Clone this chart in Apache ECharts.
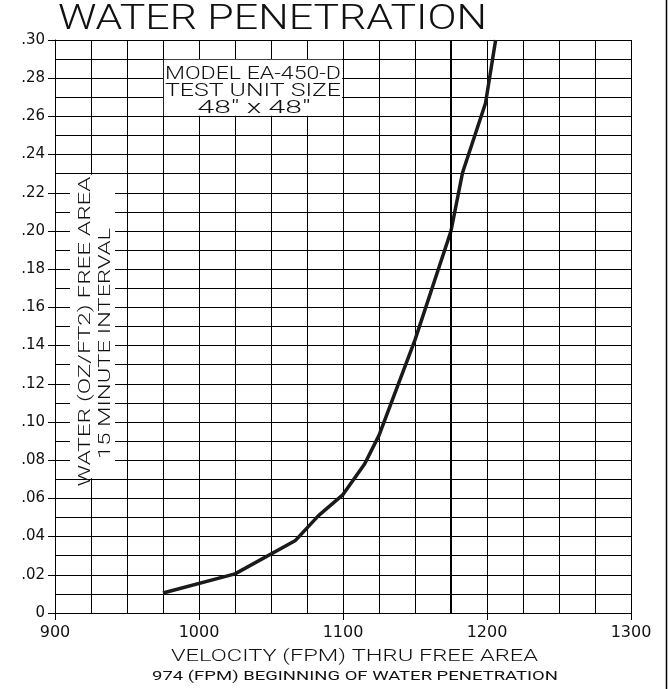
<!DOCTYPE html>
<html>
<head>
<meta charset="utf-8">
<script src="https://cdn.jsdelivr.net/npm/echarts@6/dist/echarts.min.js"></script>
<style>
	html, body { margin: 0; padding: 0; background: #fff; }
	#chart { width: 669px; height: 689px; }
</style>
</head>
<body>
<div id="chart"></div>
<script>
// 曲线数据 (FPM, oz/ft2)
const velocity = [975, 1025, 1067, 1083, 1100, 1115, 1125, 1150, 1175, 1183, 1199, 1206];
const water = [0.0105, 0.0205, 0.038, 0.051, 0.062, 0.078, 0.093, 0.143, 0.2, 0.2305, 0.267, 0.3];

// 坐标轴
const xMin = 900, xMax = 1300, xStep = 100;
const yMin = 0, yMax = 0.3, yStep = 0.02;
const yTickLabels = ['0', '.02', '.04', '.06', '.08', '.10', '.12', '.14', '.16', '.18', '.20', '.22', '.24', '.26', '.28', '.30'];

// 文字
const titleText = 'WATER PENETRATION';
const modelLines = ['MODEL EA-450-D', 'TEST UNIT SIZE', '48" x 48"'];
const yTitleLines = ['WATER (OZ/FT2) FREE AREA', '15 MINUTE INTERVAL'];
const xTitleLines = ['VELOCITY (FPM) THRU FREE AREA', '974 (FPM) BEGINNING OF WATER PENETRATION'];

const FONT = 'Roboto';
const ink = '#111';

const chart = echarts.init(document.getElementById('chart'));

const gridLine = { lineStyle: { color: '#000', width: 1 } };

const option = {
	animation: false,
	backgroundColor: '#fff',
	grid: { left: 55, right: 38, top: 40, bottom: 76 },
	xAxis: {
		type: 'value',
		min: xMin,
		max: xMax,
		interval: xStep,
		axisLine: { show: true, lineStyle: { color: '#000', width: 1 } },
		axisTick: { show: true, length: 7, lineStyle: { color: '#000' } },
		minorTick: { show: false, splitNumber: 4 },
		splitLine: { show: true, ...gridLine },
		minorSplitLine: { show: true, ...gridLine },
		axisLabel: {
			color: ink,
			fontFamily: 'DejaVu Sans',
			fontSize: 16,
			margin: 12,
			formatter: (v) => String(v),
		},
	},
	yAxis: {
		type: 'value',
		min: yMin,
		max: yMax,
		interval: yStep,
		axisLine: { show: true, lineStyle: { color: '#000', width: 1 } },
		axisTick: { show: true, length: 7, lineStyle: { color: '#000' } },
		minorTick: { show: false, splitNumber: 2 },
		splitLine: { show: true, ...gridLine },
		minorSplitLine: { show: true, ...gridLine },
		axisLabel: {
			color: ink,
			fontFamily: 'DejaVu Sans',
			fontSize: 15,
			margin: 10,
			formatter: (v) => yTickLabels[Math.round(v / yStep)],
		},
	},
	series: [
		{
			type: 'line',
			data: velocity.map((v, i) => [v, water[i]]),
			symbol: 'none',
			smooth: false,
			lineStyle: { color: '#1a1a1a', width: 3.5 },
			markArea: {
				silent: true,
				itemStyle: { color: '#fff' },
				label: { show: false },
				data: [
					[{ coord: [975.6, 0.2603] }, { coord: [1099.4, 0.2897] }],
					[{ coord: [910.4, 0.0705] }, { coord: [941.7, 0.2295] }],
				],
			},
			markLine: {
				silent: true,
				symbol: 'none',
				label: { show: false },
				lineStyle: { color: '#000', width: 2, type: 'solid' },
				data: [[{ coord: [1175, yMin] }, { coord: [1175, yMax] }]],
			},
		},
	],
};

chart.setOption(option);

// 测量文字宽度，用 scaleX 拉伸到目标宽度
const measureCtx = document.createElement('canvas').getContext('2d');
function fitText(text, size, weight, width) {
	measureCtx.font = `${weight} ${size}px ${FONT}`;
	return width / measureCtx.measureText(text).width;
}

function label(text, x, y, size, width, opts = {}) {
	const weight = opts.weight || 300;
	return {
		type: 'text',
		x: x,
		y: y,
		rotation: opts.rotation || 0,
		scaleX: fitText(text, size, weight, width),
		silent: true,
		z: 100,
		style: {
			text: text,
			fill: ink,
			font: `${weight} ${size}px ${FONT}`,
			align: 'center',
			verticalAlign: 'middle',
		},
	};
}

// 注释框位置由数据坐标换算
const boxTL = chart.convertToPixel({ gridIndex: 0 }, [975, 0.29]);
const boxBR = chart.convertToPixel({ gridIndex: 0 }, [1100, 0.26]);
const boxCx = (boxTL[0] + boxBR[0]) / 2;
const yBoxTop = chart.convertToPixel({ gridIndex: 0 }, [925, 0.23]);
const yBoxBot = chart.convertToPixel({ gridIndex: 0 }, [925, 0.07]);
const yMid = (yBoxTop[1] + yBoxBot[1]) / 2;

chart.setOption({
	graphic: [
		label(titleText, 58 + 429 / 2, 20, 35, 429),
		label(modelLines[0], boxCx, boxTL[1] + 15, 19, 176),
		label(modelLines[1], boxCx, boxTL[1] + 32.5, 19, 176),
		label(modelLines[2], boxCx + 1, boxTL[1] + 49, 19, 113),
		label(yTitleLines[0], 86, yMid + 5, 17, 310, { rotation: Math.PI / 2 }),
		label(yTitleLines[1], 105.5, yMid + 17, 17, 231, { rotation: Math.PI / 2 }),
		label(xTitleLines[0], 354.5, 657, 17, 367),
		label(xTitleLines[1], 355, 677, 12, 406, { weight: 400 }),
		{
			type: 'line',
			silent: true,
			shape: { x1: 666.5, y1: 0, x2: 666.5, y2: 689 },
			style: { stroke: '#000', lineWidth: 1.5 },
		},
	],
});
</script>
</body>
</html>
